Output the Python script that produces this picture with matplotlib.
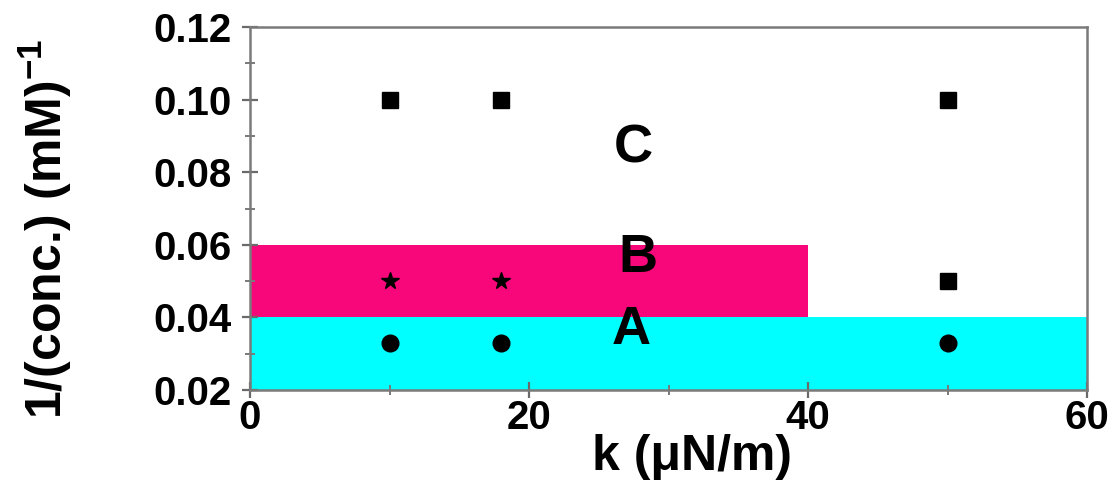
import matplotlib
matplotlib.use("Agg")
import matplotlib.pyplot as plt
from matplotlib.patches import Rectangle
from matplotlib.ticker import MultipleLocator

plt.rcParams['font.family'] = ['Liberation Sans', 'DejaVu Sans']
plt.rcParams['font.weight'] = 'bold'
plt.rcParams['mathtext.fontset'] = 'custom'
plt.rcParams['mathtext.rm'] = 'Liberation Sans:bold'
plt.rcParams['mathtext.bf'] = 'Liberation Sans:bold'

# Data
square_k = [10, 18, 50, 50]
square_c = [0.10, 0.10, 0.10, 0.05]
star_k = [10, 18]
star_c = [0.05, 0.05]
circle_k = [10, 18, 50]
circle_c = [0.033, 0.033, 0.033]

# regions: (x0, x1, y0, y1)
region_A = (0, 60, 0.02, 0.04)
region_B = (0, 40, 0.04, 0.06)
labels = ['C', 'B', 'A']
label_k = [27.5, 27.8, 27.3]
label_c = [0.0865, 0.0563, 0.0365]

xticks = [0, 20, 40, 60]
yticks = [0.02, 0.04, 0.06, 0.08, 0.10, 0.12]

fig = plt.figure(figsize=(11.12, 4.82), dpi=100)
ax = fig.add_axes([250/1112, 1-390/482, (1087-250)/1112, (390-27)/482])

ax.add_patch(Rectangle((region_A[0], region_A[2]), region_A[1]-region_A[0], region_A[3]-region_A[2],
                       facecolor='#00FFFF', edgecolor='none', zorder=1))
ax.add_patch(Rectangle((region_B[0], region_B[2]), region_B[1]-region_B[0], region_B[3]-region_B[2],
                       facecolor='#F7077A', edgecolor='none', zorder=1))

ax.plot(square_k, square_c, 's', color='black', ms=11.5, ls='none', zorder=3)
ax.plot(star_k, star_c, '*', color='black', ms=13, ls='none', zorder=3)
ax.plot(circle_k, circle_c, 'o', color='black', ms=12, ls='none', zorder=3)

for t, x, y in zip(labels, label_k, label_c):
    ax.text(x, y, t, fontsize=39, fontweight='bold', ha='center', va='center', zorder=4)

ax.set_xlim(0, 60)
ax.set_ylim(0.02, 0.12)
ax.set_xticks(xticks)
ax.set_xticklabels([str(v) for v in xticks])
ax.set_yticks(yticks)
ax.set_yticklabels([f'{v:.2f}' for v in yticks])
ax.xaxis.set_minor_locator(MultipleLocator(10))
ax.yaxis.set_minor_locator(MultipleLocator(0.01))

for s in ax.spines.values():
    s.set_color('#7a7a7a')
    s.set_linewidth(1.8)
    s.set_zorder(5)

ax.tick_params(which='major', direction='inout', length=11, width=1.6, color='#6a6a6a',
               labelsize=29, labelcolor='black')
ax.tick_params(axis='x', which='major', pad=1)
ax.tick_params(axis='y', which='major', pad=8)
ax.tick_params(which='minor', direction='inout', length=7, width=1.4, color='#7a7a7a')
ax.tick_params(top=False, right=False, which='both')
for lab in ax.get_xticklabels() + ax.get_yticklabels():
    lab.set_fontweight('bold')

ax.set_xlabel('k (μN/m)', fontsize=36, fontweight='bold')
ax.xaxis.set_label_coords((692-250)/(1087-250), -0.12)
ax.set_ylabel(r'1/(conc.) (mM)$^{-1}$', fontsize=36, fontweight='bold')
ax.yaxis.set_label_coords(-(250-74)/(1087-250), 0.445)

fig.savefig('out.png', dpi=100)
